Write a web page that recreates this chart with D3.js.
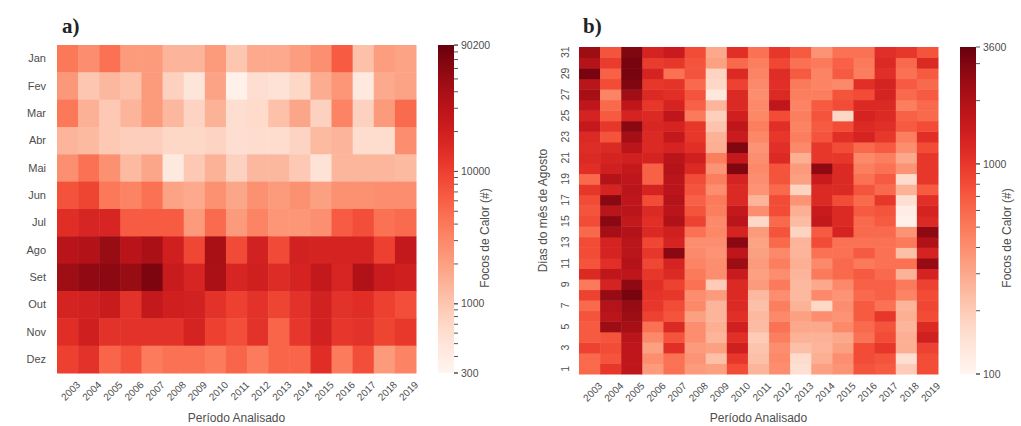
<!DOCTYPE html>
<html>
<head>
<meta charset="utf-8">
<script src="https://cdn.jsdelivr.net/npm/d3@7"></script>
<style>
  body { margin: 0; background: #fff; }
  text { font-family: "Liberation Sans", Arial, sans-serif; }
</style>
</head>
<body>
<svg id="chart" width="1021" height="426"></svg>
<script>
// anos analisados (eixo x dos dois paineis)
const years = ["2003","2004","2005","2006","2007","2008","2009","2010","2011",
               "2012","2013","2014","2015","2016","2017","2018","2019"];
const months = ["Jan","Fev","Mar","Abr","Mai","Jun","Jul","Ago","Set","Out","Nov","Dez"];
const dias = [1,2,3,4,5,6,7,8,9,10,11,12,13,14,15,16,17,18,19,20,21,22,23,24,25,26,27,28,29,30,31];

// a) focos de calor por mes (linha = mes, coluna = ano)
const focosMensais = [
  [4000,2800,4500,2200,2200,1400,1400,2200,1000,1700,1700,2100,2700,6500,1100,2100,1900],
  [2300,1000,1300,1100,2200,800,500,1900,350,600,550,700,1600,2400,450,1700,1900],
  [4000,1500,950,1400,2200,1300,750,1450,600,650,1100,1800,800,3300,800,2200,5000],
  [1400,1250,950,850,850,700,700,750,600,620,620,750,1250,1400,620,620,2800],
  [2700,4500,2600,1250,1800,450,950,1450,800,1300,1300,950,550,1350,1350,1350,1250],
  [7500,9500,4000,3300,4500,1900,1700,2600,1800,2600,2200,2600,2000,2600,2600,2800,2800],
  [14000,17000,17000,6500,6500,6500,2200,5000,2200,3300,2400,2400,2700,6500,8000,4500,5000],
  [30000,34000,50000,30000,38000,20000,9000,40000,8500,19000,8500,19000,18000,18000,18000,10000,25000],
  [45000,55000,58000,50000,70000,23000,17000,38000,17000,20000,15000,18000,25000,17000,35000,22000,20000],
  [18000,19000,23000,13000,25000,20000,19000,13000,10000,13000,9500,13000,19000,13000,14000,10000,8000],
  [14000,20000,13000,13000,13000,13000,18000,10000,8000,13000,5500,12000,19000,12000,13000,9500,11500],
  [10000,13000,5500,7500,3800,4500,4500,3800,5500,3800,5500,5500,14000,3800,8000,2200,3300]
];

// b) focos de calor por dia de agosto (um vetor por ano, dia 1 ... 31)
const focosDiarios = [
  [600,600,900,700,700,750,600,900,500,1200,750,800,800,600,800,750,800,1000,600,1100,1200,1150,1200,1600,1300,1700,2200,1800,3200,1900,2400],
  [1000,750,800,750,2400,1800,1900,2500,1300,1700,1100,1300,1300,2200,2800,1800,2800,1300,1900,1400,1300,1200,750,1000,700,600,450,800,650,950,750],
  [1700,1700,1700,1800,2200,2400,2500,3200,2700,1700,1900,1800,1800,1900,1600,1800,1700,1800,1700,1600,1400,1800,2200,2800,1300,1700,2300,3000,3200,3200,3000],
  [350,400,330,420,550,900,1000,1050,1100,1000,850,1000,850,1200,1100,1200,800,1300,650,650,1300,1200,1200,1250,1200,1000,1200,1000,1300,950,1300],
  [550,550,1100,750,1200,750,800,1000,900,1200,1300,2800,1300,1400,2000,1800,1900,1800,1800,1900,1800,1300,1600,1300,1700,1300,1100,1050,550,1000,1500],
  [350,380,350,400,400,330,420,400,550,500,450,420,400,550,900,750,650,750,800,1200,1400,1100,1000,1000,500,650,750,600,750,750,800],
  [330,230,330,260,280,260,260,350,200,400,400,380,400,430,420,480,500,400,480,380,480,280,270,220,190,260,130,170,180,330,300],
  [800,1000,1400,1100,1400,1100,1200,1200,1200,1500,2400,1700,2800,1300,1800,1600,1200,1200,1300,3000,1600,3000,1500,1700,1400,1200,1200,900,1200,600,1100],
  [260,230,220,200,240,250,230,250,350,330,350,330,320,350,170,400,260,380,400,420,400,380,430,480,430,420,400,420,450,480,550],
  [400,420,400,480,550,420,480,400,500,400,480,420,600,750,600,800,800,600,750,750,1200,1100,1000,1100,800,1700,1200,1100,1150,850,1000],
  [150,160,230,270,300,330,270,250,250,260,280,260,260,180,240,280,380,180,330,350,280,420,480,450,480,450,480,500,700,550,700],
  [330,280,260,270,300,400,170,420,300,500,420,550,800,700,1600,1500,1200,1200,1500,2700,1000,1000,750,700,750,700,480,450,450,500,380],
  [380,400,330,300,420,380,400,380,420,600,600,550,550,1300,1200,1200,800,1200,1200,1200,1000,800,1100,800,170,800,750,420,700,650,550],
  [750,800,800,550,600,700,700,600,650,700,500,700,550,600,600,700,600,750,550,480,420,600,1300,1200,1300,1200,800,1100,480,500,550],
  [700,750,1000,800,750,1000,550,650,650,600,550,550,550,600,700,750,1000,600,700,550,480,700,1000,1100,1200,1200,1300,1300,1100,1200,1100],
  [200,150,280,280,260,280,260,450,500,270,550,230,500,380,110,120,150,270,160,380,300,400,480,700,650,480,600,700,550,600,1000],
  [800,800,900,1400,1200,800,850,800,900,1300,2500,1300,2000,2700,1200,1300,1100,700,1000,1000,1000,800,1100,800,600,600,700,600,700,1200,750]
];

// rotulos das legendas
const legendLabelsA = [300, 1000, 10000, 90200];
const legendLabelsB = [100, 1000, 3600];

const svg = d3.select("#chart");

const colorA = d3.scaleSequentialLog(d3.interpolateReds).domain([300, 90200]);
const colorB = d3.scaleSequentialLog(d3.interpolateReds).domain([100, 3600]);

function xLabels(g, xScale, y) {
    g.selectAll("text.year")
        .data(years)
        .enter().append("text")
        .attr("class", "year")
        .attr("transform", d => "translate(" + (xScale(d) + xScale.bandwidth() / 2 + 11) + "," + (y + 10) + ") rotate(-45)")
        .attr("text-anchor", "end")
        .attr("dy", "0.35em")
        .style("font-size", "10px")
        .style("fill", "#4d4d4d")
        .text(d => d);
}

function legend(id, x, y0, y1, color, labels) {
    let defs = svg.append("defs");
    let grad = defs.append("linearGradient")
        .attr("id", id)
        .attr("x1", "0").attr("y1", "1").attr("x2", "0").attr("y2", "0");
    d3.range(0, 1.001, 0.05).forEach(t => {
        grad.append("stop").attr("offset", t).attr("stop-color", d3.interpolateReds(t));
    });
    svg.append("rect")
        .attr("x", x).attr("y", y0)
        .attr("width", 16).attr("height", y1 - y0)
        .attr("fill", "url(#" + id + ")");

    let s = d3.scaleLog().domain(color.domain()).range([y1, y0]);
    let minor = s.ticks().filter(v => v >= s.domain()[0] && v <= s.domain()[1]);
    svg.append("g").selectAll("line")
        .data(minor.concat(labels))
        .enter().append("line")
        .attr("x1", x + 16).attr("x2", x + 20)
        .attr("y1", d => s(d)).attr("y2", d => s(d))
        .style("stroke", "#555")
        .style("stroke-width", 1);
    svg.append("g").selectAll("text")
        .data(labels)
        .enter().append("text")
        .attr("x", x + 23)
        .attr("y", d => s(d))
        .attr("dy", "0.35em")
        .style("font-size", "10.5px")
        .style("fill", "#4d4d4d")
        .text(d => d);
    svg.append("text")
        .attr("transform", "translate(" + (x + 51) + ",238) rotate(-90)")
        .attr("text-anchor", "middle")
        .style("font-size", "12px")
        .style("fill", "#4d4d4d")
        .text("Focos de Calor (#)");
}

// ---------- painel a ----------
{
    let x0 = 57, x1 = 416, y0 = 45, y1 = 373;
    let xScale = d3.scaleBand().domain(years).range([x0, x1]);
    let yScale = d3.scaleBand().domain(months).range([y0, y1]);
    let cells = [];
    focosMensais.forEach((row, i) => row.forEach((v, j) => cells.push({m: months[i], y: years[j], v: v})));

    let g = svg.append("g");
    g.selectAll("rect")
        .data(cells)
        .enter().append("rect")
        .attr("x", d => xScale(d.y))
        .attr("y", d => yScale(d.m))
        .attr("width", xScale.bandwidth() + 0.5)
        .attr("height", yScale.bandwidth() + 0.5)
        .attr("fill", d => colorA(d.v));

    let yAxis = svg.append("g")
        .attr("transform", "translate(" + (x0 - 8) + ",0)")
        .call(d3.axisLeft(yScale).tickSize(0));
    yAxis.select(".domain").remove();
    yAxis.selectAll("text").style("font-size", "11px").style("fill", "#4d4d4d")
        .style("font-family", "Liberation Sans, Arial, sans-serif");

    xLabels(svg.append("g"), xScale, y1);

    svg.append("text")
        .attr("x", (x0 + x1) / 2).attr("y", 422)
        .attr("text-anchor", "middle")
        .style("font-size", "12px").style("fill", "#4d4d4d")
        .text("Período Analisado");

    svg.append("text")
        .attr("x", 62).attr("y", 33)
        .style("font-family", "Liberation Serif, DejaVu Serif, serif")
        .style("font-weight", "bold").style("font-size", "21px").style("fill", "#222")
        .text("a)");

    legend("gradA", 438, y0, y1, colorA, legendLabelsA);
}

// ---------- painel b ----------
{
    let x0 = 579, x1 = 938, y0 = 47, y1 = 374;
    let xScale = d3.scaleBand().domain(years).range([x0, x1]);
    let yScale = d3.scaleBand().domain(dias).range([y1, y0]);
    let cells = [];
    focosDiarios.forEach((col, j) => col.forEach((v, i) => cells.push({d: dias[i], y: years[j], v: v})));

    svg.append("g").selectAll("rect")
        .data(cells)
        .enter().append("rect")
        .attr("x", d => xScale(d.y))
        .attr("y", d => yScale(d.d))
        .attr("width", xScale.bandwidth() + 0.5)
        .attr("height", yScale.bandwidth() + 0.5)
        .attr("fill", d => colorB(d.v));

    let yAxis = svg.append("g")
        .attr("transform", "translate(" + x0 + ",0)")
        .call(d3.axisLeft(yScale).tickSize(0).tickValues(dias.filter(d => d % 2 === 1)));
    yAxis.select(".domain").remove();
    yAxis.selectAll("text")
        .attr("x", 0).attr("y", -14).attr("dy", "0.35em")
        .attr("transform", "rotate(-90)")
        .attr("text-anchor", "middle")
        .style("font-size", "10.5px").style("fill", "#4d4d4d")
        .style("font-family", "Liberation Sans, Arial, sans-serif");

    svg.append("text")
        .attr("transform", "translate(547," + (y0 + y1) / 2 + ") rotate(-90)")
        .attr("text-anchor", "middle")
        .style("font-size", "12px").style("fill", "#4d4d4d")
        .text("Dias do mês de Agosto");

    xLabels(svg.append("g"), xScale, y1);

    svg.append("text")
        .attr("x", (x0 + x1) / 2).attr("y", 422)
        .attr("text-anchor", "middle")
        .style("font-size", "12px").style("fill", "#4d4d4d")
        .text("Período Analisado");

    svg.append("text")
        .attr("x", 583).attr("y", 33)
        .style("font-family", "Liberation Serif, DejaVu Serif, serif")
        .style("font-weight", "bold").style("font-size", "21px").style("fill", "#222")
        .text("b)");

    legend("gradB", 960, y0, y1, colorB, legendLabelsB);
}
</script>
</body>
</html>
